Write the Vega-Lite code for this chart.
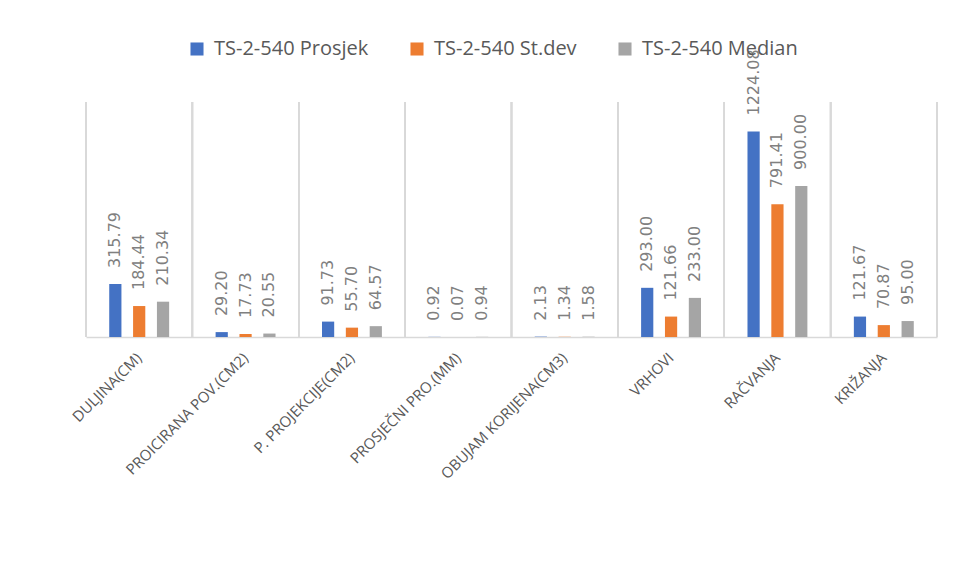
{
  "$schema": "https://vega.github.io/schema/vega-lite/v6.json",
  "width": 851,
  "height": 235,
  "autosize": {"type": "none"},
  "padding": {"left": 86, "top": 102, "right": 20, "bottom": 247},
  "background": "white",
  "config": {"view": {"stroke": null}, "font": "Open Sans"},
  "data": {
    "values": [
      {"kategorija": "DULJINA(CM)", "serija": "TS-2-540 Prosjek", "vrijednost": 315.79},
      {"kategorija": "DULJINA(CM)", "serija": "TS-2-540 St.dev", "vrijednost": 184.44},
      {"kategorija": "DULJINA(CM)", "serija": "TS-2-540 Median", "vrijednost": 210.34},
      {"kategorija": "PROICIRANA POV.(CM2)", "serija": "TS-2-540 Prosjek", "vrijednost": 29.20},
      {"kategorija": "PROICIRANA POV.(CM2)", "serija": "TS-2-540 St.dev", "vrijednost": 17.73},
      {"kategorija": "PROICIRANA POV.(CM2)", "serija": "TS-2-540 Median", "vrijednost": 20.55},
      {"kategorija": "P. PROJEKCIJE(CM2)", "serija": "TS-2-540 Prosjek", "vrijednost": 91.73},
      {"kategorija": "P. PROJEKCIJE(CM2)", "serija": "TS-2-540 St.dev", "vrijednost": 55.70},
      {"kategorija": "P. PROJEKCIJE(CM2)", "serija": "TS-2-540 Median", "vrijednost": 64.57},
      {"kategorija": "PROSJEČNI PRO.(MM)", "serija": "TS-2-540 Prosjek", "vrijednost": 0.92},
      {"kategorija": "PROSJEČNI PRO.(MM)", "serija": "TS-2-540 St.dev", "vrijednost": 0.07},
      {"kategorija": "PROSJEČNI PRO.(MM)", "serija": "TS-2-540 Median", "vrijednost": 0.94},
      {"kategorija": "OBUJAM KORIJENA(CM3)", "serija": "TS-2-540 Prosjek", "vrijednost": 2.13},
      {"kategorija": "OBUJAM KORIJENA(CM3)", "serija": "TS-2-540 St.dev", "vrijednost": 1.34},
      {"kategorija": "OBUJAM KORIJENA(CM3)", "serija": "TS-2-540 Median", "vrijednost": 1.58},
      {"kategorija": "VRHOVI", "serija": "TS-2-540 Prosjek", "vrijednost": 293.00},
      {"kategorija": "VRHOVI", "serija": "TS-2-540 St.dev", "vrijednost": 121.66},
      {"kategorija": "VRHOVI", "serija": "TS-2-540 Median", "vrijednost": 233.00},
      {"kategorija": "RAČVANJA", "serija": "TS-2-540 Prosjek", "vrijednost": 1224.08},
      {"kategorija": "RAČVANJA", "serija": "TS-2-540 St.dev", "vrijednost": 791.41},
      {"kategorija": "RAČVANJA", "serija": "TS-2-540 Median", "vrijednost": 900.00},
      {"kategorija": "KRIŽANJA", "serija": "TS-2-540 Prosjek", "vrijednost": 121.67},
      {"kategorija": "KRIŽANJA", "serija": "TS-2-540 St.dev", "vrijednost": 70.87},
      {"kategorija": "KRIŽANJA", "serija": "TS-2-540 Median", "vrijednost": 95.00}
    ]
  },
  "layer": [
    {
      "mark": {"type": "rule", "color": "#d9d9d9", "strokeWidth": 1.5},
      "encoding": {
        "x": {"field": "kategorija", "type": "nominal", "sort": null, "bandPosition": 0,
          "scale": {"paddingInner": 0, "paddingOuter": 0},
          "axis": {"title": null, "domain": true, "domainColor": "#d9d9d9", "domainWidth": 1.5, "ticks": false, "labelAngle": -45, "labelAlign": "right", "labelBaseline": "middle", "labelFontSize": 15, "labelColor": "#595959", "labelPadding": 18, "labelLimit": 400, "labelFont": "Open Sans"}}
      }
    },
    {
      "mark": {"type": "rule", "color": "#d9d9d9", "strokeWidth": 1.5},
      "encoding": {
        "x": {"field": "kategorija", "type": "nominal", "sort": null, "bandPosition": 1,
          "scale": {"paddingInner": 0, "paddingOuter": 0},
          "axis": {"title": null, "domain": true, "domainColor": "#d9d9d9", "domainWidth": 1.5, "ticks": false, "labelAngle": -45, "labelAlign": "right", "labelBaseline": "middle", "labelFontSize": 15, "labelColor": "#595959", "labelPadding": 18, "labelLimit": 400, "labelFont": "Open Sans"}}
      }
    },
    {
      "mark": {"type": "bar"},
      "encoding": {
        "x": {"field": "kategorija", "type": "nominal", "sort": null,
          "scale": {"paddingInner": 0, "paddingOuter": 0},
          "axis": {"title": null, "domain": true, "domainColor": "#d9d9d9", "domainWidth": 1.5, "ticks": false, "labelAngle": -45, "labelAlign": "right", "labelBaseline": "middle", "labelFontSize": 15, "labelColor": "#595959", "labelPadding": 18, "labelLimit": 400, "labelFont": "Open Sans"}},
        "xOffset": {"field": "serija", "type": "nominal",
          "scale": {"domain": ["TS-2-540 Prosjek", "TS-2-540 St.dev", "TS-2-540 Median"], "paddingInner": 0.488, "paddingOuter": 0.974}},
        "y": {"field": "vrijednost", "type": "quantitative", "scale": {"domain": [0, 1400]}, "axis": null},
        "color": {"field": "serija", "type": "nominal",
          "scale": {"domain": ["TS-2-540 Prosjek", "TS-2-540 St.dev", "TS-2-540 Median"], "range": ["#4472C4", "#ED7D31", "#A5A5A5"]},
          "legend": {"orient": "none", "legendX": 101, "legendY": -63, "direction": "horizontal", "title": null, "symbolType": "square", "symbolSize": 170, "symbolStrokeWidth": 0, "labelFontSize": 20, "labelColor": "#595959", "labelFont": "Open Sans", "columnPadding": 38, "labelOffset": 7}}
      }
    },
    {
      "mark": {"type": "text", "angle": 270, "align": "left", "baseline": "middle", "dx": 16, "fontSize": 16, "font": "DejaVu Sans", "color": "#808080"},
      "encoding": {
        "x": {"field": "kategorija", "type": "nominal", "sort": null,
          "scale": {"paddingInner": 0, "paddingOuter": 0},
          "axis": {"title": null, "domain": true, "domainColor": "#d9d9d9", "domainWidth": 1.5, "ticks": false, "labelAngle": -45, "labelAlign": "right", "labelBaseline": "middle", "labelFontSize": 15, "labelColor": "#595959", "labelPadding": 18, "labelLimit": 400, "labelFont": "Open Sans"}},
        "xOffset": {"field": "serija", "type": "nominal",
          "scale": {"domain": ["TS-2-540 Prosjek", "TS-2-540 St.dev", "TS-2-540 Median"], "paddingInner": 0.488, "paddingOuter": 0.974}},
        "y": {"field": "vrijednost", "type": "quantitative", "scale": {"domain": [0, 1400]}, "axis": null},
        "text": {"field": "vrijednost", "type": "quantitative", "format": ".2f"}
      }
    }
  ]
}
